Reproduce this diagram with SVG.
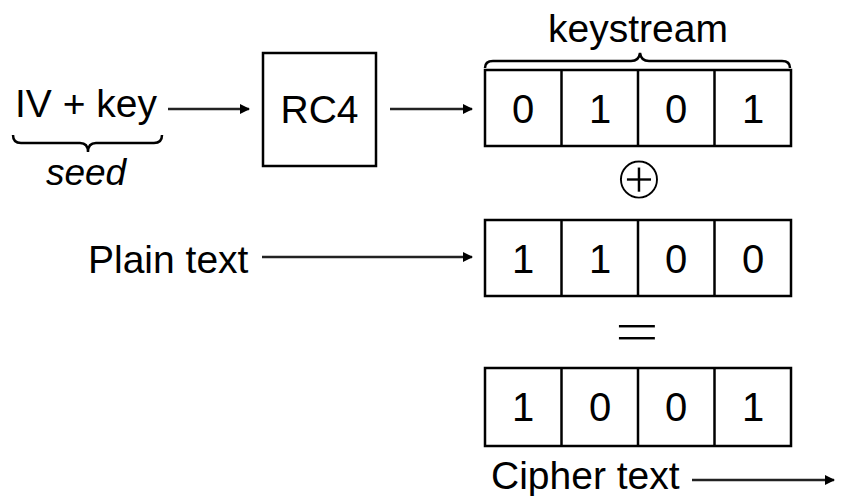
<svg xmlns="http://www.w3.org/2000/svg" width="844" height="496" viewBox="0 0 844 496">
<style>
  text { font-family: "Liberation Sans", Arial, sans-serif; fill: #000; }
  .lbl { font-size: 39px; }
  .dig { font-size: 40px; text-anchor: middle; }
  .box { fill: #fff; stroke: #000; stroke-width: 2.5; }
  .div { stroke: #000; stroke-width: 2.5; }
  .conn { stroke: #222; stroke-width: 2.5; fill: none; }
  .brace { stroke: #000; stroke-width: 2.5; fill: none; }
</style>
<defs>
  <marker id="arr" viewBox="0 0 10 10" refX="9" refY="5" markerWidth="10" markerHeight="10" markerUnits="userSpaceOnUse" orient="auto">
    <path d="M0,0 L10,5 L0,10 z" fill="#000"/>
  </marker>
</defs>
<rect width="844" height="496" fill="#fff"/>

<g id="seed">
  <text class="lbl" x="86" y="117" text-anchor="middle">IV + key</text>
  <path class="brace" d="M13,135 Q13,143 21,143 L80,143 Q88,143 88,152 Q88,143 96,143 L154,143 Q162,143 162,135"/>
  <text x="86" y="185" text-anchor="middle" font-style="italic" font-size="37">seed</text>
</g>

<g id="rc4">
  <rect class="box" x="263" y="53" width="113" height="113"/>
  <text class="lbl" x="319.5" y="123" text-anchor="middle">RC4</text>
</g>

<g id="keystream">
  <text class="lbl" x="638" y="42" text-anchor="middle">keystream</text>
  <path class="brace" d="M485,68 Q485,61 493,61 L631,61 Q639,61 640,53 Q641,61 649,61 L782,61 Q790,61 790,68"/>
  <rect class="box" x="485" y="70" width="306" height="76"/>
  <line class="div" x1="561.5" y1="70" x2="561.5" y2="146"/>
  <line class="div" x1="638" y1="70" x2="638" y2="146"/>
  <line class="div" x1="714.5" y1="70" x2="714.5" y2="146"/>
  <text class="dig" x="523" y="123">0</text>
  <text class="dig" x="600" y="123">1</text>
  <text class="dig" x="676" y="123">0</text>
  <text class="dig" x="753" y="123">1</text>
</g>

<g id="xor">
  <text x="639" y="199" text-anchor="middle" font-family="DejaVu Sans, sans-serif" font-size="62" stroke="#fff" stroke-width="2.6">⊕</text>
</g>

<g id="plaintext-label">
  <text class="lbl" x="88" y="273">Plain text</text>
</g>

<g id="plaintext">
  <rect class="box" x="485" y="220" width="306" height="76"/>
  <line class="div" x1="561.5" y1="220" x2="561.5" y2="296"/>
  <line class="div" x1="638" y1="220" x2="638" y2="296"/>
  <line class="div" x1="714.5" y1="220" x2="714.5" y2="296"/>
  <text class="dig" x="523" y="273">1</text>
  <text class="dig" x="600" y="273">1</text>
  <text class="dig" x="676" y="273">0</text>
  <text class="dig" x="753" y="273">0</text>
</g>

<g id="equals">
  <text transform="translate(637,348) scale(1.6,1)" x="0" y="0" text-anchor="middle" font-size="48" stroke="#fff" stroke-width="0.8">=</text>
</g>

<g id="ciphertext">
  <rect class="box" x="485" y="368" width="306" height="78"/>
  <line class="div" x1="561.5" y1="368" x2="561.5" y2="446"/>
  <line class="div" x1="638" y1="368" x2="638" y2="446"/>
  <line class="div" x1="714.5" y1="368" x2="714.5" y2="446"/>
  <text class="dig" x="523" y="421">1</text>
  <text class="dig" x="600" y="421">0</text>
  <text class="dig" x="676" y="421">0</text>
  <text class="dig" x="753" y="421">1</text>
</g>

<g id="ciphertext-label">
  <text class="lbl" x="491" y="489">Cipher text</text>
</g>

<g id="connectors">
  <line class="conn" x1="168" y1="109" x2="249" y2="109" marker-end="url(#arr)"/>
  <line class="conn" x1="390" y1="109" x2="472" y2="109" marker-end="url(#arr)"/>
  <line class="conn" x1="262" y1="257" x2="472" y2="257" marker-end="url(#arr)"/>
  <line class="conn" x1="692" y1="480" x2="834" y2="480" marker-end="url(#arr)"/>
</g>
</svg>
